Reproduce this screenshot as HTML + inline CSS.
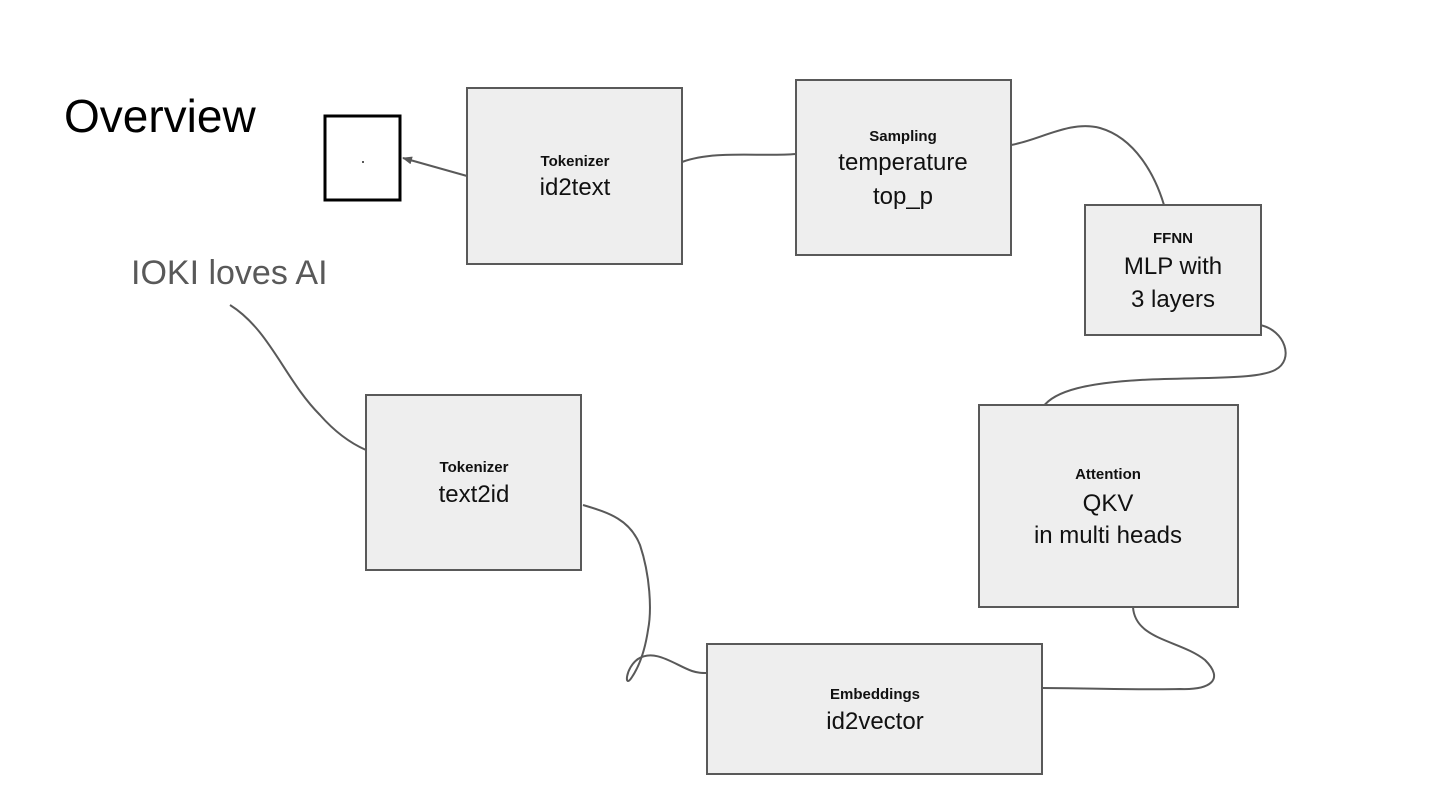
<!DOCTYPE html>
<html><head><meta charset="utf-8"><style>
html,body{margin:0;padding:0;background:#fff;}
svg{display:block;}
text{font-family:"Liberation Sans",Arial,sans-serif;}
.t{font-size:15px;font-weight:bold;fill:#111;text-anchor:middle;}
.m{font-size:24px;fill:#111;text-anchor:middle;}
.b{fill:#eeeeee;stroke:#595959;stroke-width:2;}
.c{fill:none;stroke:#595959;stroke-width:2;}
</style></head><body>
<svg width="1440" height="810" viewBox="0 0 1440 810" xmlns="http://www.w3.org/2000/svg">
<defs><marker id="a" markerWidth="10" markerHeight="8" refX="9" refY="4" orient="auto" markerUnits="userSpaceOnUse"><path d="M0,0 L10,4 L0,8 Z" fill="#595959"/></marker></defs>
<text x="64" y="132" font-size="46" fill="#000">Overview</text>
<text x="131" y="284" font-size="34" fill="#595959">IOKI loves AI</text>
<rect x="325" y="116" width="75" height="84" fill="#fff" stroke="#000" stroke-width="3"/>
<rect x="362" y="161" width="2" height="2" fill="#595959"/>
<!-- connectors -->
<path class="c" d="M467,176 L403,158" marker-end="url(#a)"/>
<path class="c" d="M682,162 C715,150 760,157 796,154"/>
<path class="c" d="M1011,145 C1040,140 1070,120 1100,128 C1135,138 1155,175 1164,205"/>
<path class="c" d="M1260,325 C1285,330 1295,360 1275,370 C1255,380 1200,377 1140,380 C1090,383 1055,390 1043,407"/>
<path class="c" d="M1133,607 C1135,640 1180,640 1205,660 C1225,680 1210,690 1180,689 C1140,690 1080,688 1042,688"/>
<path class="c" d="M583,505 C610,513 630,520 640,545 C650,575 652,610 648,630 C645,650 640,665 632,677 C624,690 625,668 638,659 C655,648 675,665 692,671 C698,673 702,673 707,673"/>
<path class="c" d="M230,305 C270,330 285,380 320,415 C335,432 350,443 366,450"/>
<!-- boxes -->
<rect class="b" x="467" y="88" width="215" height="176"/>
<text class="t" x="575" y="166">Tokenizer</text>
<text class="m" x="575" y="195">id2text</text>
<rect class="b" x="796" y="80" width="215" height="175"/>
<text class="t" x="903" y="141">Sampling</text>
<text class="m" x="903" y="170">temperature</text>
<text class="m" x="903" y="204">top_p</text>
<rect class="b" x="1085" y="205" width="176" height="130"/>
<text class="t" x="1173" y="243">FFNN</text>
<text class="m" x="1173" y="274">MLP with</text>
<text class="m" x="1173" y="307">3 layers</text>
<rect class="b" x="979" y="405" width="259" height="202"/>
<text class="t" x="1108" y="479">Attention</text>
<text class="m" x="1108" y="511">QKV</text>
<text class="m" x="1108" y="543">in multi heads</text>
<rect class="b" x="707" y="644" width="335" height="130"/>
<text class="t" x="875" y="699">Embeddings</text>
<text class="m" x="875" y="729">id2vector</text>
<rect class="b" x="366" y="395" width="215" height="175"/>
<text class="t" x="474" y="472">Tokenizer</text>
<text class="m" x="474" y="502">text2id</text>
</svg>
</body></html>
